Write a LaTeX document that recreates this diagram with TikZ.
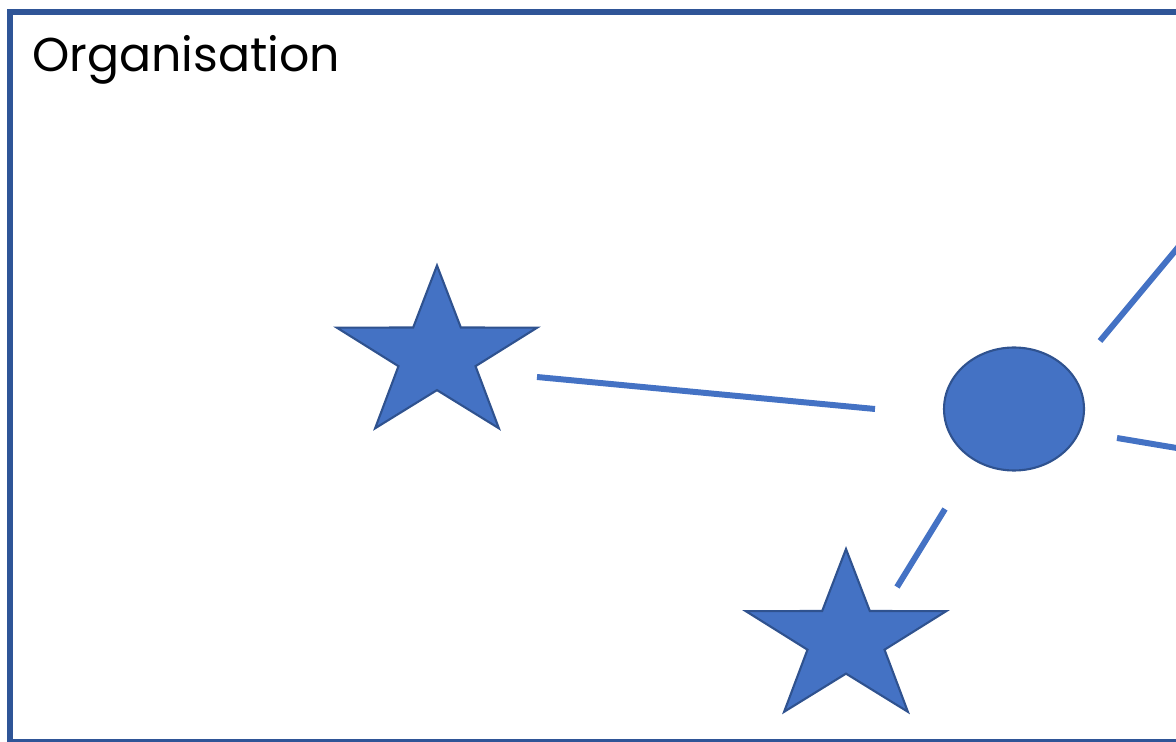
\documentclass[tikz,border=0pt]{standalone}
\usepackage{fontspec}
\setmainfont{Poppins}
\usepackage{tikz}
\usetikzlibrary{shapes.geometric}

\definecolor{fillblue}{HTML}{4472C4}
\definecolor{edgeblue}{HTML}{2F528F}
\definecolor{frameblue}{HTML}{2F5597}

\begin{document}
\begin{tikzpicture}[x=0.02cm, y=-0.02cm,
    starbox/.style={draw=edgeblue, fill=fillblue, line width=1.2pt, star, star points=5, star point ratio=2.6, minimum size=3.6cm, inner sep=0pt, xscale=1.17, transform shape},
    link/.style={fillblue, line width=3.4pt}]
            \useasboundingbox (0,0) rectangle (1176,742);
            \clip (0,0) rectangle (1176,742);
            \draw[frameblue, line width=3.2pt] (10,12) rectangle (1195,742);
            \node[anchor=base west, inner sep=0pt, font=\fontsize{27}{32}\selectfont] (title) at (32,72) {Organisation};
            \node[starbox] (s1) at (437,355.5) {};
            \node[starbox] (s2) at (846,639) {};
            \node[draw=edgeblue, fill=fillblue, line width=1.2pt, shape=ellipse, inner sep=0pt, minimum width=2.8cm, minimum height=2.46cm] (e) at (1014,409) {};
            \coordinate (up) at (1290,113);
            \coordinate (right) at (1290,467);
            \draw[link] ([shift={(100,21.5)}]s1.center) -- ([shift={(-139,0)}]e.center);
            \draw[link] ([shift={(86,-68)}]e.center) -- (up);
            \draw[link] ([shift={(103,29)}]e.center) -- (right);
            \draw[link] ([shift={(-69,100)}]e.center) -- ([shift={(51,-52)}]s2.center);
        \end{tikzpicture}
\end{document}
